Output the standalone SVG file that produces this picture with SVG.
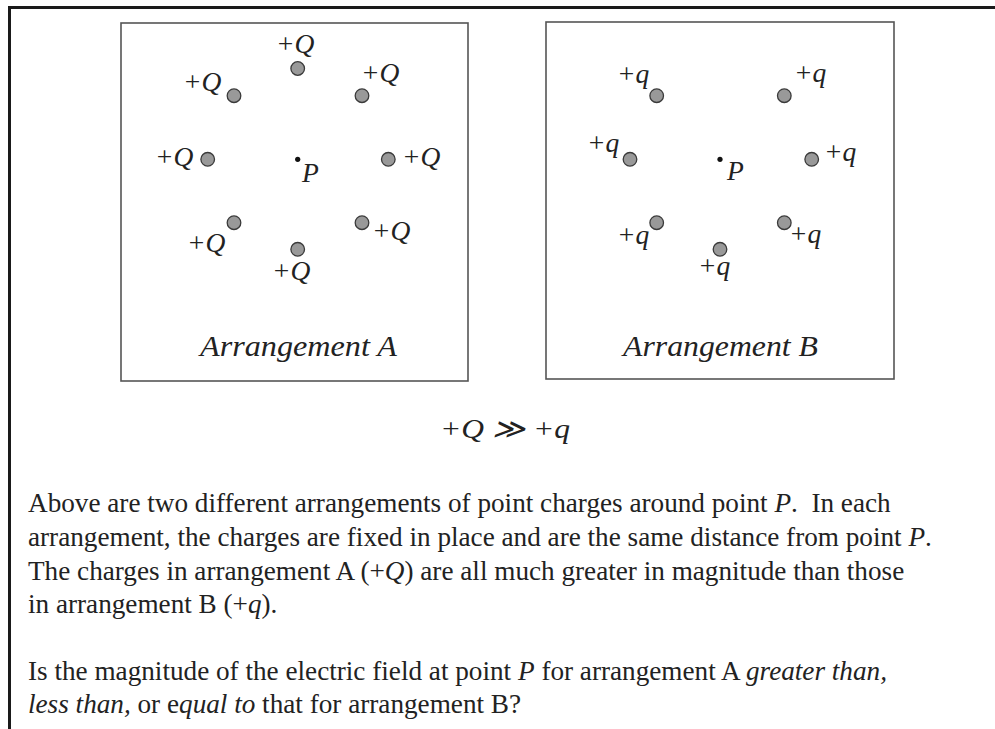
<svg xmlns="http://www.w3.org/2000/svg" width="995" height="729" viewBox="0 0 995 729">
<style>
.frame{fill:none;stroke:#1a1a1a;stroke-width:3}
.box{fill:#fff;stroke:#555;stroke-width:1.6}
.chg{fill:#999;stroke:#3a3a3a;stroke-width:1.3}
.pt{fill:#111}
.m{font-family:"Liberation Serif","Times New Roman",serif;font-style:italic;font-size:27.5px;fill:#222}
.cap{font-family:"Liberation Serif","Times New Roman",serif;font-style:italic;font-size:29px;fill:#222}
.body{font-family:"Liberation Serif","Times New Roman",serif;font-size:27.2px;fill:#222;white-space:pre}
.i{font-style:italic}
</style>
<rect width="995" height="729" fill="#fff"/>
<path class="frame" d="M9.5 729 V7.5 H995"/>

<g id="arrangementA">
<rect class="box" x="121" y="23" width="347" height="358"/>
<circle class="chg" cx="297.7" cy="68.5" r="6.8"/>
<circle class="chg" cx="234" cy="95.7" r="6.8"/>
<circle class="chg" cx="362" cy="95.7" r="6.8"/>
<circle class="chg" cx="207.7" cy="159.3" r="6.8"/>
<circle class="chg" cx="388.3" cy="159.3" r="6.8"/>
<circle class="chg" cx="234" cy="222.7" r="6.8"/>
<circle class="chg" cx="362" cy="222.7" r="6.8"/>
<circle class="chg" cx="297.7" cy="249.3" r="6.8"/>
<circle class="pt" cx="297.7" cy="159.3" r="2.6"/>
<text class="m" x="276" y="53">+Q</text>
<text class="m" x="183" y="91">+Q</text>
<text class="m" x="361" y="82">+Q</text>
<text class="m" x="155" y="166">+Q</text>
<text class="m" x="402" y="166">+Q</text>
<text class="m" x="302" y="182">P</text>
<text class="m" x="187" y="252">+Q</text>
<text class="m" x="372" y="240">+Q</text>
<text class="m" x="272" y="280">+Q</text>
<text class="cap" x="200" y="356" textLength="197" lengthAdjust="spacingAndGlyphs">Arrangement A</text>
</g>

<g id="arrangementB">
<rect class="box" x="546" y="22" width="348" height="357"/>
<circle class="chg" cx="656.7" cy="95.7" r="6.8"/>
<circle class="chg" cx="784.3" cy="95.7" r="6.8"/>
<circle class="chg" cx="630" cy="159.3" r="6.8"/>
<circle class="chg" cx="811.7" cy="159.3" r="6.8"/>
<circle class="chg" cx="656.7" cy="222.7" r="6.8"/>
<circle class="chg" cx="784.3" cy="222.7" r="6.8"/>
<circle class="chg" cx="720" cy="249.3" r="6.8"/>
<circle class="pt" cx="720" cy="159.3" r="2.6"/>
<text class="m" x="617" y="83">+q</text>
<text class="m" x="794" y="82">+q</text>
<text class="m" x="587" y="152">+q</text>
<text class="m" x="824" y="161">+q</text>
<text class="m" x="727" y="180">P</text>
<text class="m" x="617" y="244">+q</text>
<text class="m" x="789" y="243">+q</text>
<text class="m" x="698" y="275">+q</text>
<text class="cap" x="623" y="356" textLength="195" lengthAdjust="spacingAndGlyphs">Arrangement B</text>
</g>

<g id="relation">
<text class="m" x="440" y="438" textLength="130" lengthAdjust="spacingAndGlyphs">+Q ≫ +q</text>
</g>

<g id="question">
<text class="body" x="28" y="512">Above are two different arrangements of point charges around point <tspan class="i">P</tspan>.  In each</text>
<text class="body" x="28" y="546">arrangement, the charges are fixed in place and are the same distance from point <tspan class="i">P</tspan>.</text>
<text class="body" x="28" y="580">The charges in arrangement A (+<tspan class="i">Q</tspan>) are all much greater in magnitude than those</text>
<text class="body" x="28" y="613">in arrangement B (+<tspan class="i">q</tspan>).</text>
<text class="body" x="28" y="680">Is the magnitude of the electric field at point <tspan class="i">P</tspan> for arrangement A <tspan class="i">greater than,</tspan></text>
<text class="body" x="28" y="713"><tspan class="i">less than,</tspan> or e<tspan class="i">qual to</tspan> that for arrangement B?</text>
</g>
</svg>
